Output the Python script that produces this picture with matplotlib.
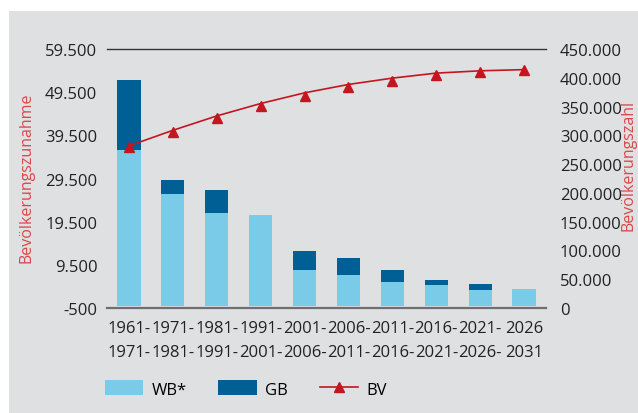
import matplotlib
matplotlib.use("Agg")
import matplotlib.pyplot as plt
from matplotlib.patches import Rectangle, Patch
from matplotlib.lines import Line2D
from matplotlib.ticker import FuncFormatter
import numpy as np

plt.rcParams['font.family'] = ['Open Sans', 'DejaVu Sans']

# Zeitraeume (zweizeilige Beschriftung)
start_jahre = ['1961', '1971', '1981', '1991', '2001', '2006', '2011', '2016', '2021', '2026']
end_jahre = ['1971', '1981', '1991', '2001', '2006', '2011', '2016', '2021', '2026', '2031']

# Bevoelkerungszunahme (linke Achse)
wb = [36200, 26000, 21600, 21100, 8400, 7200, 5600, 4900, 3750, 3950]
gb = [16200, 3250, 5300, 0, 4400, 3950, 2800, 1150, 1400, 0]

# Bevoelkerungszahl (rechte Achse): Punkte und Trendlinie
bv = [280300, 305800, 329600, 350100, 368000, 383200, 394700, 404600, 409900, 413400]
bv_trend = [281700, 308700, 333700, 355300, 373800, 388400, 399400, 408100, 412100, 414200]

hell = '#7acbe8'
dunkel = '#005f94'
rot = '#c3161f'
rot_text = '#d9484a'
grau = '#dfe0e2'


def punkt_format(v, pos):
    return '{:,.0f}'.format(v).replace(',', '.')


fig = plt.figure(figsize=(6.38, 4.14), dpi=100, facecolor='white')
fig.patches.append(Rectangle((9 / 638, 0), 1, 1 - 12 / 414, transform=fig.transFigure,
                             facecolor=grau, edgecolor='none', zorder=-10))

ax = fig.add_axes([107 / 638, 1 - 309 / 414, 439 / 638, 259 / 414])
ax.set_facecolor('none')
x = np.arange(len(wb))
ax.bar(x, wb, width=0.53, color=hell, zorder=2)
ax.bar(x, gb, width=0.53, bottom=wb, color=dunkel, zorder=2)
ax.set_xlim(-0.5, len(wb) - 0.5)
ax.set_ylim(-500, 59500)
ax.set_yticks(np.arange(-500, 59501, 10000))
ax.yaxis.set_major_formatter(FuncFormatter(punkt_format))

labels = []
for i in range(len(start_jahre)):
    if i < len(start_jahre) - 1:
        labels.append(start_jahre[i] + '-\n' + end_jahre[i] + '-')
    else:
        labels.append(start_jahre[i] + '\n' + end_jahre[i])
ax.set_xticks(x)
ax.set_xticklabels(labels, linespacing=1.6)

for s in ['left', 'right']:
    ax.spines[s].set_visible(False)
ax.spines['top'].set_color('#333333')
ax.spines['top'].set_linewidth(1.0)
ax.spines['bottom'].set_color('#6e6e6e')
ax.spines['bottom'].set_linewidth(1.6)
ax.tick_params(axis='both', length=0, labelsize=12, colors='#222222')
ax.tick_params(axis='y', pad=7)
ax.tick_params(axis='x', pad=9)

ax2 = ax.twinx()
ax2.set_ylim(0, 450000)
ax2.set_yticks(np.arange(0, 450001, 50000))
ax2.yaxis.set_major_formatter(FuncFormatter(punkt_format))
ax2.plot(x, bv_trend, color=rot, lw=1.2, zorder=3)
ax2.plot(x, bv, ls='none', marker='^', ms=6.5, color=rot, zorder=4)
for s in ['left', 'right', 'top', 'bottom']:
    ax2.spines[s].set_visible(False)
ax2.tick_params(axis='y', length=0, labelsize=12, colors='#222222', pad=10)

fig.text(27 / 638, 1 - 178 / 414, 'Bevölkerungszunahme', rotation=90, color=rot_text,
         fontsize=11.5, ha='center', va='center')
fig.text(628 / 638, 1 - 165 / 414, 'Bevölkerungszahl', rotation=90, color=rot_text,
         fontsize=11.5, ha='center', va='center')

handles = [Patch(facecolor=hell, edgecolor='none'),
           Patch(facecolor=dunkel, edgecolor='none'),
           Line2D([0], [0], color=rot, lw=1.2, marker='^', ms=6.5)]
fig.legend(handles, ['WB*', 'GB', 'BV'], loc='center left', bbox_to_anchor=(100 / 638, 1 - 390 / 414),
           ncol=3, frameon=False, fontsize=12, handlelength=2.3, handleheight=1.0,
           handletextpad=0.5, columnspacing=1.9, borderaxespad=0, borderpad=0.3)

fig.savefig('out.png', dpi=100, facecolor=fig.get_facecolor())
